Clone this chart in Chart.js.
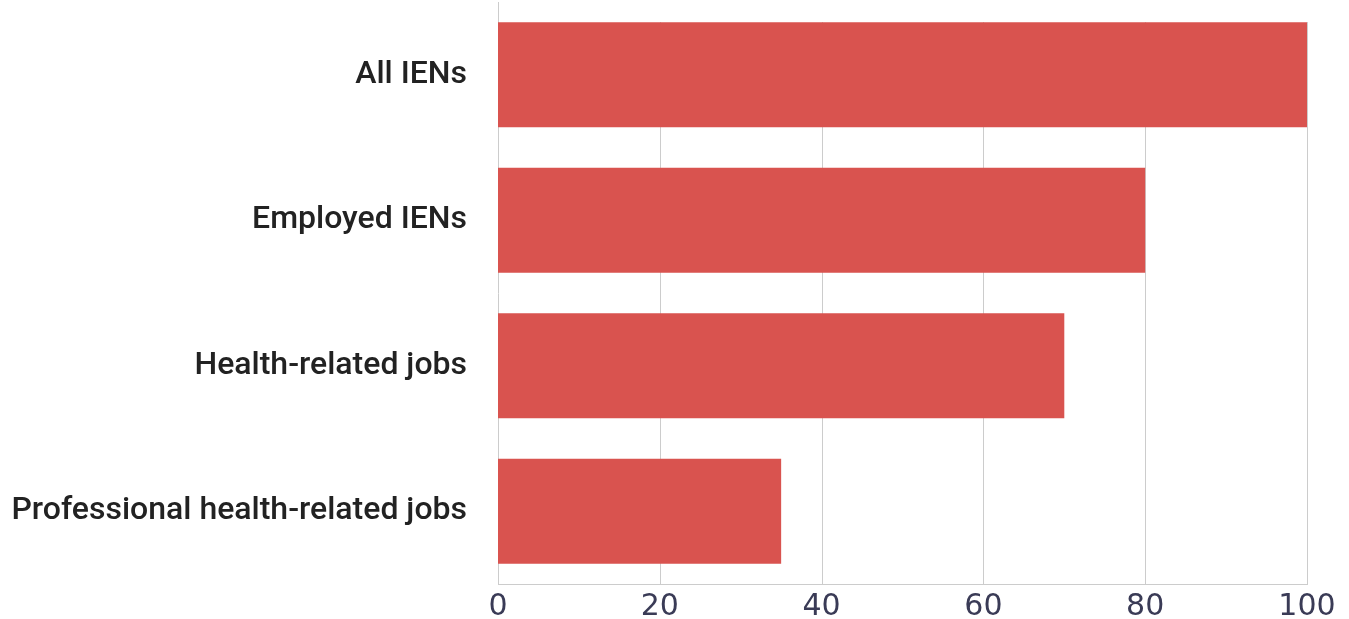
<!DOCTYPE html>
<html>
<head>
<meta charset="utf-8">
<script src="https://cdn.jsdelivr.net/npm/chart.js@4"></script>
<style>
  html, body { margin: 0; padding: 0; background: #fff; }
  #wrap { width: 1349px; height: 619px; }
</style>
</head>
<body>
<div id="wrap"><canvas id="chart" width="1349" height="619"></canvas></div>
<script>
const categories = ['All IENs', 'Employed IENs', 'Health-related jobs', 'Professional health-related jobs'];
const shares = [100, 80, 70, 35];
const xTicks = [0, 20, 40, 60, 80, 100];

const ctx = document.getElementById('chart').getContext('2d');

// vertical grid lines only start at the top of the first bar
const gridFromFirstBar = {
    id: 'gridFromFirstBar',
    beforeDatasetsDraw(chart) {
        const bar = chart.getDatasetMeta(0).data[0];
        const top = Math.round(bar.y - bar.height / 2);
        const bottom = chart.chartArea.bottom;
        const x = chart.scales.x;
        const c = chart.ctx;
        c.save();
        c.strokeStyle = '#cccccc';
        c.lineWidth = 1;
        xTicks.slice(1).forEach(v => {
            const px = Math.round(x.getPixelForValue(v)) + 0.5;
            c.beginPath();
            c.moveTo(px, top);
            c.lineTo(px, bottom);
            c.stroke();
        });
        c.restore();
    }
};

new Chart(ctx, {
    type: 'bar',
    data: {
        labels: categories,
        datasets: [{
            label: '',
            data: shares,
            backgroundColor: '#d9534f',
            borderWidth: 0,
            barPercentage: 0.9,
            categoryPercentage: 0.8
        }]
    },
    options: {
        indexAxis: 'y',
        responsive: false,
        animation: false,
        layout: { padding: { top: 2, right: 42, left: 0, bottom: 0 } },
        scales: {
            x: {
                min: 0,
                max: 100,
                afterBuildTicks: (s) => { s.ticks = xTicks.map(v => ({ value: v })); },
                afterFit: (s) => { s.height = 35; },
                grid: { display: false, drawTicks: false },
                border: { color: '#cccccc' },
                ticks: {
                    padding: 5,
                    color: '#3a3b56',
                    font: { family: 'DejaVu Sans', size: 30 }
                }
            },
            y: {
                afterFit: (s) => {
                    s.width = 498;
                    s.paddingTop = 0;
                    s.paddingBottom = 0;
                },
                grid: { display: false, drawTicks: false },
                border: { color: '#cccccc' },
                ticks: {
                    padding: 31,
                    color: '#222222',
                    font: { family: 'Roboto', size: 32, weight: '500' }
                }
            }
        },
        plugins: {
            legend: { display: false },
            tooltip: { enabled: false }
        }
    },
    plugins: [gridFromFirstBar]
});
</script>
</body>
</html>
